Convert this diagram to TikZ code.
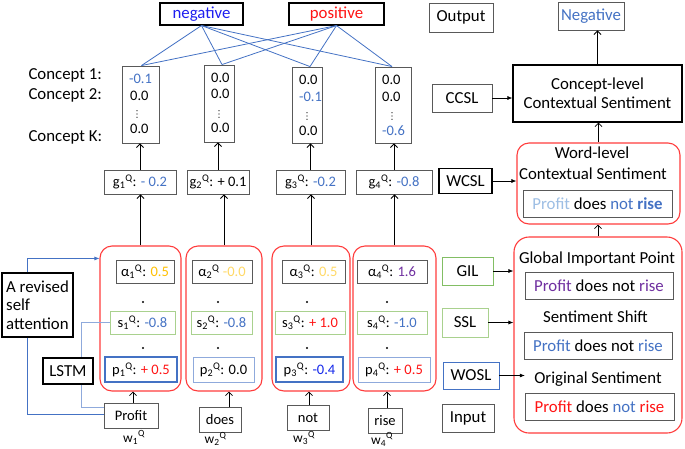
\documentclass[tikz,border=0pt]{standalone}
\usepackage{fontspec}
\setmainfont{Carlito}
\usetikzlibrary{arrows.meta}
\definecolor{oblue}{RGB}{68,114,196}
\definecolor{lblue}{RGB}{143,170,220}
\definecolor{pblue}{RGB}{157,190,228}
\definecolor{negblue}{RGB}{30,30,240}
\definecolor{pureblue}{RGB}{20,40,235}
\definecolor{rtext}{RGB}{255,20,20}
\definecolor{rcol}{RGB}{255,60,60}
\definecolor{orng}{RGB}{255,192,0}
\definecolor{lorng}{RGB}{255,217,102}
\definecolor{purp}{RGB}{112,48,160}
\definecolor{grn}{RGB}{130,190,100}
\definecolor{lgrn}{RGB}{169,209,142}
\definecolor{dgray}{RGB}{89,89,89}
\tikzset{
  base/.style={font=\fontsize{16.8}{19}\selectfont},
  sm/.style={font=\fontsize{14.5}{17}\selectfont},
  wlab/.style={font=\fontsize{13.5}{15}\selectfont, inner sep=0pt},
  wh/.style 2 args={minimum width=#1pt, minimum height=#2pt, inner sep=0pt},
  gbox/.style={draw=dgray, line width=0.9pt, fill=white},
  kbox/.style={draw=black, line width=1.1pt, fill=white},
  redcol/.style={draw=rcol, line width=1.1pt, rounded corners=12pt},
  up/.style={-{Straight Barb[length=3.5pt,width=7pt]}, line width=0.8pt},
  fa/.style={-{Latex[length=5pt,width=4pt]}, line width=0.7pt},
  bl/.style={draw=oblue, line width=0.8pt},
  lbl/.style={draw=lblue, line width=0.8pt},
  dotc/.style={fill=black}
}
\newcommand{\sq}[2]{#1\textsubscript{#2}\textsuperscript{Q}}
\begin{document}
\begin{tikzpicture}[x=1pt,y=-1pt]
\useasboundingbox (0,0) rectangle (685,448);

% ---------- top output ----------
\node[kbox,wh={83}{22},base,text=negblue] (neg) at (201.5,14) {negative};
\node[kbox,wh={95}{22},base,text=rtext] (pos) at (336.5,14) {positive};

% ---------- concept boxes ----------
\node[gbox,wh={37}{77}] (c1) at (140.5,104.5) {};
\node[gbox,wh={30}{77}] (c2) at (219,103.5) {};
\node[gbox,wh={30}{76}] (c3) at (307,105) {};
\node[gbox,wh={36}{76}] (c4) at (393,105) {};

\foreach \s in {neg,pos}{
  \draw[bl] (\s.south) -- ([xshift=1pt]c1.north);
  \draw[bl] (\s.south) -- ([xshift=3pt]c2.north);
  \draw[bl] (\s.south) -- ([xshift=3pt]c3.north);
  \draw[bl] (\s.south) -- ([xshift=-1pt]c4.north);
}

\node[base,anchor=base west] (k1) at (25,79) {Concept 1:};
\node[base,anchor=base west] (k2) at (25,99) {Concept 2:};
\node[base,anchor=base west] (kk) at (25,141) {Concept K:};

\node[sm,anchor=west,inner sep=0pt,text=oblue] (c1a) at (129,78.5) {-0.1};
\node[sm,anchor=west,inner sep=0pt] (c1b) at (130,96) {0.0};
\node[sm,anchor=west,inner sep=0pt] (c1k) at (130,129) {0.0};

\node[sm,anchor=west,inner sep=0pt] (c2a) at (211,77.5) {0.0};
\node[sm,anchor=west,inner sep=0pt] (c2b) at (211,94) {0.0};
\node[sm,anchor=west,inner sep=0pt] (c2k) at (211,128) {0.0};

\node[sm,anchor=west,inner sep=0pt] (c3a) at (299,80) {0.0};
\node[sm,anchor=west,inner sep=0pt,text=oblue] (c3b) at (299,97) {-0.1};
\node[sm,anchor=west,inner sep=0pt] (c3k) at (299,131) {0.0};

\node[sm,anchor=west,inner sep=0pt] (c4a) at (382,80) {0.0};
\node[sm,anchor=west,inner sep=0pt] (c4b) at (382,97) {0.0};
\node[sm,anchor=west,inner sep=0pt,text=oblue] (c4k) at (382,131) {-0.6};

% vertical ellipses
\foreach \x/\y in {137/114, 219/114, 307/116, 392/116}{
  \foreach \d in {-3.2,0,3.2}{
    \fill[dotc] (\x,\y+\d) circle (0.6);
  }
}

% ---------- g boxes ----------
\node[gbox,wh={72}{24},sm] (g1) at (140,182) {\sq{g}{1}: \textcolor{oblue}{- 0.2}};
\node[gbox,wh={62}{24},sm] (g2) at (218,182) {\sq{g}{2}: + 0.1};
\node[gbox,wh={69}{24},sm] (g3) at (310.5,182) {\sq{g}{3}: \textcolor{oblue}{-0.2}};
\node[gbox,wh={76}{24},sm] (g4) at (394,182) {\sq{g}{4}: \textcolor{oblue}{-0.8}};

\foreach \i in {1,2,3,4}{
  \draw[up] (g\i.north) -- (g\i.north |- c\i.south);
}

% ---------- word columns ----------
\node[redcol,wh={81}{145}] (col1) at (140.5,318.5) {};
\node[redcol,wh={76}{145}] (col2) at (224,318.5) {};
\node[redcol,wh={78}{145}] (col3) at (311,318.5) {};
\node[redcol,wh={83}{145}] (col4) at (394.5,318.5) {};

\foreach \i in {1,2,3,4}{
  \draw[up] (col\i.north) -- (col\i.north |- g\i.south);
}

\node[gbox,wh={58}{23},sm] (a1) at (145,271.5) {\sq{α}{1}: \textcolor{orng}{0.5}};
\node[gbox,wh={60}{23},sm] (a2) at (222,271.5) {\sq{α}{2} \textcolor{lorng}{-0.0}};
\node[gbox,wh={63}{23},sm] (a3) at (313.5,271.5) {\sq{α}{3}: \textcolor{lorng}{0.5}};
\node[gbox,wh={70}{23},sm] (a4) at (392,271.5) {\sq{α}{4}: \textcolor{purp}{1.6}};

\node[gbox,draw=lgrn,wh={65}{23},sm] (s1) at (142.5,322.5) {\sq{s}{1}: \textcolor{oblue}{-0.8}};
\node[gbox,draw=lgrn,wh={61}{23},sm] (s2) at (221.5,322.5) {\sq{s}{2}: \textcolor{oblue}{-0.8}};
\node[gbox,draw=lgrn,wh={70}{23},sm] (s3) at (310,322.5) {\sq{s}{3}: \textcolor{rtext}{+ 1.0}};
\node[gbox,draw=lgrn,wh={70}{23},sm] (s4) at (392,322.5) {\sq{s}{4}: \textcolor{oblue}{-1.0}};

\node[gbox,draw=oblue,line width=1.2pt,wh={72}{25},sm] (p1) at (141,369.5) {\sq{p}{1}: \textcolor{rtext}{+ 0.5}};
\node[gbox,draw=lblue,wh={61}{25},sm] (p2) at (223.5,369.5) {\sq{p}{2}: 0.0};
\node[gbox,draw=oblue,line width=1.2pt,wh={67}{25},sm] (p3) at (309.5,369.5) {\sq{p}{3}: \textcolor{pureblue}{-0.4}};
\node[gbox,draw=lblue,wh={72}{25},sm] (p4) at (394,369.5) {\sq{p}{4}: \textcolor{rtext}{+ 0.5}};

\foreach \x in {143,218,307,387}{
  \fill[dotc] (\x,302) circle (1.1);
  \fill[dotc] (\x,348) circle (1.1);
}

% ---------- input words ----------
\node[gbox,wh={54}{25},sm] (wp) at (131,415.5) {Profit};
\node[gbox,wh={42}{25},sm] (wd) at (220,419.5) {does};
\node[gbox,wh={42}{25},sm] (wn) at (308,417.5) {not};
\node[gbox,wh={34}{25},sm] (wr) at (385,420.5) {rise};

\draw[up] ([xshift=2pt]wp.north) -- ([xshift=2pt]wp.north |- col1.south);
\draw[up] ([xshift=9pt]wd.north) -- ([xshift=9pt]wd.north |- col2.south);
\draw[up] ([xshift=1pt]wn.north) -- ([xshift=1pt]wn.north |- col3.south);
\draw[up] ([xshift=2pt]wr.north) -- ([xshift=2pt]wr.north |- col4.south);

\node[wlab] (w1) at (134,437.5) {\sq{w}{1}};
\node[wlab] (w2) at (215.5,439) {\sq{w}{2}};
\node[wlab] (w3) at (304,438) {\sq{w}{3}};
\node[wlab] (w4) at (382,439.5) {\sq{w}{4}};

% ---------- attention / LSTM ----------
\node[kbox,wh={71}{64},font=\fontsize{16.8}{18.5}\selectfont,align=left] (rsa) at (37.5,305) {A revised\\self\\attention};

\draw[bl,fa,draw=oblue] ([xshift=-10.5pt]rsa.north) |- ([yshift=-13pt]col1.north west);
\draw[bl] ([xshift=-10.5pt]rsa.south) |- ([yshift=1.5pt]wp.west);
\draw[lbl] (s1.west) -- ++(-28,0) |- ([yshift=8.5pt]wp.west);

\node[kbox,wh={50}{26},base] (lstm) at (68,371) {LSTM};

% ---------- right side ----------
\node[gbox,wh={64}{29},base] (out) at (461,17.5) {Output};
\node[gbox,wh={66}{28},base,text=oblue] (nout) at (591,16) {Negative};

\node[kbox,wh={169}{57},font=\fontsize{16.8}{19}\selectfont,align=center] (cl) at (597.5,93.5) {Concept-level\\Contextual Sentiment};
\node[gbox,wh={60}{28},base] (ccsl) at (462,98) {CCSL};
\draw[fa] (ccsl.east) -- (ccsl.east -| cl.west);
\draw[up] (cl.north) -- (cl.north |- nout.south);

\node[redcol,wh={163}{81}] (wl) at (598.5,183.5) {};
\node[base,anchor=base] (wlt1) at (592,158) {Word-level};
\node[base,anchor=base] (wlt2) at (593,179) {Contextual Sentiment};
\node[gbox,wh={149}{27},base] (wls) at (597.5,203.5) {\textcolor{pblue}{Profit} does \textcolor{oblue}{not} \textcolor{oblue}{\textbf{rise}}};
\node[kbox,wh={53}{25},base] (wcsl) at (465.5,181) {WCSL};
\draw[fa] (wcsl.east) -- (wcsl.east -| wl.west);
\draw[up] (wl.north) -- (wl.north |- cl.south);

\node[redcol,rounded corners=15pt,wh={168}{196}] (bb) at (598,335) {};
\draw[up] (bb.north) -- (bb.north |- wl.south);

\node[base,anchor=base] (gipt) at (597,263) {Global Important Point};
\node[gbox,wh={148}{27},base] (gip) at (599,285.5) {\textcolor{purp}{Profit} does not \textcolor{purp}{rise}};
\node[base,anchor=base] (sst) at (595.5,322) {Sentiment Shift};
\node[gbox,wh={148}{27},base] (ssb) at (598,345.5) {\textcolor{oblue}{Profit} does not \textcolor{oblue}{rise}};
\node[base,anchor=base] (ost) at (598,383) {Original Sentiment};
\node[gbox,wh={149}{27},base] (osb) at (599.5,406.5) {\textcolor{rtext}{Profit} does \textcolor{oblue}{not} \textcolor{rtext}{rise}};

\node[gbox,draw=grn,wh={51}{28},base] (gil) at (467.5,271) {GIL};
\node[gbox,draw=lgrn,wh={46}{29},base] (ssl) at (465,322.5) {SSL};
\node[gbox,draw=oblue,wh={56}{27},base] (wosl) at (471,375.5) {WOSL};
\node[gbox,wh={52}{28},base] (inp) at (468,418) {Input};

\draw[fa] (gil.east) -- (gil.east -| bb.west);
\draw[fa] (ssl.east) -- (ssl.east -| bb.west);
\draw[fa,shorten >=6pt] (wosl.east) -- (wosl.east -| ost.west);
\end{tikzpicture}
\end{document}
